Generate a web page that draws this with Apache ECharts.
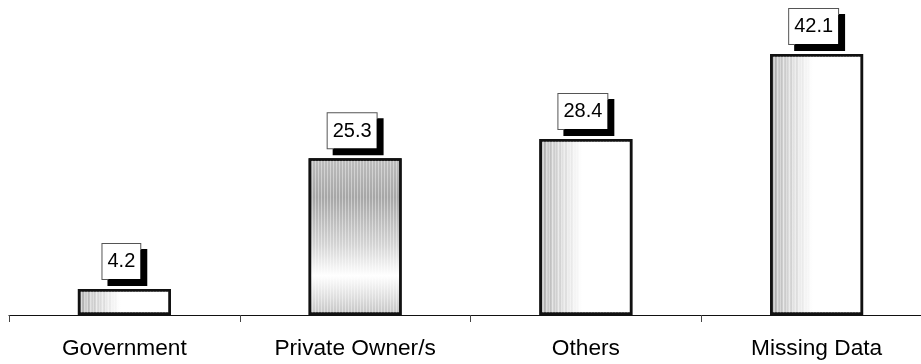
<!DOCTYPE html>
<html>
<head>
<meta charset="utf-8">
<script src="https://cdn.jsdelivr.net/npm/echarts@6/dist/echarts.min.js"></script>
<style>
  html, body { margin: 0; padding: 0; background: #fff; overflow: hidden; }
  /* the axis runs past the right edge, so the drawing surface is a bit wider than the page */
  #chart { width: 940px; height: 364px; }
</style>
</head>
<body>
<div id="chart"></div>
<script>
// Categories and their percentage values
const categories = ['Government', 'Private Owner/s', 'Others', 'Missing Data'];
const values = [4.2, 25.3, 28.4, 42.1];

// Fill for most bars: grey stripes at the left edge fading to white
function sideFade() {
  const stops = [];
  const n = 16;
  for (let i = 0; i <= n; i++) {
    const t = i / n * 0.46;
    const fade = i / n;
    const dark = i % 2 === 0;
    const base = dark ? 165 : 200;
    const v = Math.round(base + (255 - base) * fade);
    stops.push({ offset: t, color: `rgb(${v},${v},${v})` });
  }
  stops.push({ offset: 1, color: '#ffffff' });
  return { type: 'linear', x: 0, y: 0, x2: 1, y2: 0, colorStops: stops };
}

// Fill for the second bar: grey band fading to white low down
function bandFade() {
  return {
    type: 'linear', x: 0, y: 0, x2: 0, y2: 1,
    colorStops: [
      { offset: 0, color: '#bdbdbd' },
      { offset: 0.25, color: '#a6a6a6' },
      { offset: 0.55, color: '#d4d4d4' },
      { offset: 0.75, color: '#ffffff' },
      { offset: 1, color: '#c4c4c4' }
    ]
  };
}

const fills = [sideFade(), bandFade(), sideFade(), sideFade()];

const chart = echarts.init(document.getElementById('chart'), null, { renderer: 'canvas' });

chart.setOption({
  animation: false,
  backgroundColor: '#ffffff',
  grid: { left: 9, top: 5, width: 923, bottom: 49, containLabel: false },
  xAxis: {
    type: 'category',
    data: categories,
    axisLine: { lineStyle: { color: '#111', width: 1.2 } },
    axisTick: { show: true, length: 7, lineStyle: { color: '#444' } },
    axisLabel: {
      margin: 22,
      fontSize: 22.7,
      color: '#000',
      fontFamily: '"Liberation Sans", Arial, sans-serif'
    }
  },
  yAxis: { type: 'value', min: 0, max: 50, show: false },
  series: [{
    type: 'bar',
    barWidth: 93,
    data: values.map((v, i) => ({
      value: v,
      itemStyle: { color: fills[i] }
    })),
    itemStyle: {
      borderColor: '#111',
      borderWidth: 2.5,
      // fine vertical pinstripes over the shading
      decal: {
        symbol: 'rect',
        symbolSize: 1,
        color: 'rgba(255,255,255,0.4)',
        dashArrayX: [1, 2],
        dashArrayY: [4, 0],
        rotation: 0
      }
    },
    label: {
      show: true,
      position: 'top',
      distance: 10,
      offset: [-3, 0],
      formatter: p => p.value.toFixed(1),
      fontSize: 20,
      color: '#000',
      fontFamily: '"Liberation Sans", Arial, sans-serif',
      backgroundColor: '#ffffff',
      borderColor: '#555',
      borderWidth: 1,
      padding: [8, 5, 7, 5],
      shadowColor: '#000',
      shadowBlur: 0,
      shadowOffsetX: 6,
      shadowOffsetY: 6
    }
  }]
});
</script>
</body>
</html>
